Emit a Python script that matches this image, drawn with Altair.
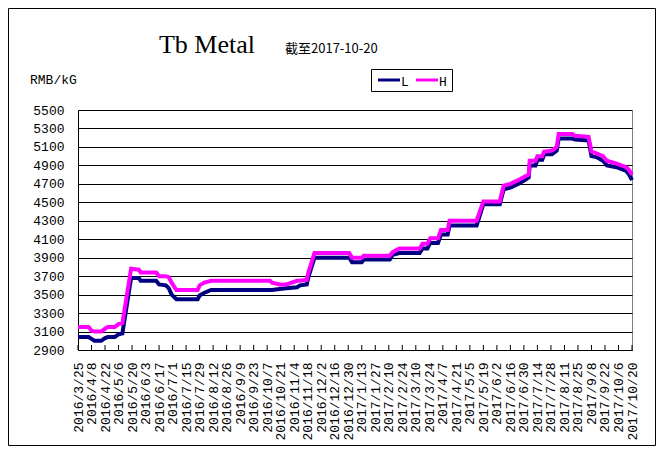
import altair as alt
import pandas as pd

# ---------------- data ----------------
dates = [
    "2016-03-25", "2016-04-05", "2016-04-08", "2016-04-11", "2016-04-18", "2016-04-22",
    "2016-04-25", "2016-05-02", "2016-05-06", "2016-05-10", "2016-05-19", "2016-05-27",
    "2016-05-29", "2016-06-14", "2016-06-17", "2016-06-24", "2016-06-27", "2016-06-30",
    "2016-07-05", "2016-07-27", "2016-07-29", "2016-08-03", "2016-08-10", "2016-10-10",
    "2016-10-12", "2016-10-20", "2016-10-27", "2016-11-07", "2016-11-10", "2016-11-17",
    "2016-11-19", "2016-11-25", "2016-12-31", "2017-01-03", "2017-01-13", "2017-01-15",
    "2017-02-11", "2017-02-14", "2017-02-21", "2017-03-14", "2017-03-17", "2017-03-22",
    "2017-03-25", "2017-04-02", "2017-04-05", "2017-04-12", "2017-04-14", "2017-05-12",
    "2017-05-19", "2017-06-05", "2017-06-09", "2017-06-16", "2017-06-24", "2017-07-01",
    "2017-07-05", "2017-07-06", "2017-07-12", "2017-07-14", "2017-07-19", "2017-07-21",
    "2017-07-29", "2017-08-03", "2017-08-05", "2017-08-19", "2017-08-22", "2017-09-05",
    "2017-09-08", "2017-09-13", "2017-09-20", "2017-09-24", "2017-10-04", "2017-10-14",
    "2017-10-17", "2017-10-20",
]
low = [
    3040, 3040, 3020, 3000, 3000, 3030,
    3040, 3040, 3070, 3080, 3680, 3680,
    3650, 3650, 3610, 3600, 3570, 3500,
    3450, 3450, 3490, 3520, 3550, 3550,
    3550, 3560, 3570, 3580, 3600, 3610,
    3700, 3900, 3900, 3850, 3850, 3880,
    3880, 3930, 3950, 3950, 4000, 4000,
    4060, 4060, 4150, 4150, 4250, 4250,
    4480, 4480, 4640, 4660, 4700, 4740,
    4770, 4900, 4900, 4960, 4960, 5020,
    5020, 5060, 5190, 5190, 5180, 5170,
    5000, 4990, 4950, 4900, 4880, 4840,
    4800, 4740,
]
high = [
    3150, 3150, 3110, 3100, 3100, 3130,
    3150, 3150, 3180, 3190, 3780, 3770,
    3740, 3740, 3700, 3700, 3690, 3630,
    3550, 3550, 3600, 3630, 3650, 3650,
    3630, 3610, 3610, 3650, 3650, 3660,
    3750, 3950, 3950, 3900, 3900, 3920,
    3920, 3960, 4000, 4000, 4050, 4050,
    4110, 4110, 4200, 4200, 4300, 4300,
    4510, 4510, 4680, 4700, 4740, 4780,
    4800, 4950, 4950, 5000, 5000, 5050,
    5060, 5100, 5240, 5240, 5220, 5210,
    5050, 5030, 5000, 4950, 4920, 4880,
    4850, 4800,
]
tick_dates = [
    "2016-03-25", "2016-04-08", "2016-04-22", "2016-05-06", "2016-05-20", "2016-06-03",
    "2016-06-17", "2016-07-01", "2016-07-15", "2016-07-29", "2016-08-12", "2016-08-26",
    "2016-09-09", "2016-09-23", "2016-10-07", "2016-10-21", "2016-11-04", "2016-11-18",
    "2016-12-02", "2016-12-16", "2016-12-30", "2017-01-13", "2017-01-27", "2017-02-10",
    "2017-02-24", "2017-03-10", "2017-03-24", "2017-04-07", "2017-04-21", "2017-05-05",
    "2017-05-19", "2017-06-02", "2017-06-16", "2017-06-30", "2017-07-14", "2017-07-28",
    "2017-08-11", "2017-08-25", "2017-09-08", "2017-09-22", "2017-10-06", "2017-10-20",
]
y_ticks = [2900, 3100, 3300, 3500, 3700, 3900, 4100, 4300, 4500, 4700, 4900, 5100, 5300, 5500]
series_names = ["L", "H"]
series_colors = ["#000080", "#FF00FF"]
title_text = ["Tb Metal"]
subtitle_text = ["截至2017-10-20"]
unit_text = ["RMB/kG"]

# ---------------- tables ----------------
long_df = pd.concat([
    pd.DataFrame({"date": dates, "value": low, "series": "L"}),
    pd.DataFrame({"date": dates, "value": high, "series": "H"}),
], ignore_index=True)
ticks_df = pd.DataFrame({"date": tick_dates})

W, H = 554, 240


def dt(s):
    y, m, d = (int(p) for p in s.split("-"))
    return alt.DateTime(year=y, month=m, date=d, utc=True)


x_scale = alt.Scale(type="utc", domain=[dt(tick_dates[0]), dt(tick_dates[-1])], nice=False)
x_enc = alt.X(
    "date:T",
    scale=x_scale,
    axis=alt.Axis(
        values=[dt(s) for s in tick_dates],
        format="%Y/%-m/%-d",
        labelAngle=270,
        labelAlign="right",
        labelBaseline="middle",
        labelFlush=False,
        labelOverlap=False,
        ticks=False,
        grid=False,
        domainColor="black",
        labelFont="Liberation Mono",
        labelFontSize=13,
        labelColor="black",
        labelPadding=12,
        title=None,
    ),
)
y_scale = alt.Scale(domain=[2900, 5500], nice=False, zero=False)
y_enc = alt.Y(
    "value:Q",
    scale=y_scale,
    axis=alt.Axis(
        values=y_ticks,
        format="d",
        grid=True,
        gridColor="black",
        gridOpacity=1,
        gridWidth=1,
        ticks=False,
        domainColor="black",
        labelFont="Liberation Mono",
        labelFontSize=13,
        labelColor="black",
        labelPadding=14,
        title=None,
    ),
)
color_enc = alt.Color(
    "series:N",
    scale=alt.Scale(domain=series_names, range=series_colors),
    legend=None,
)

base = alt.Chart(long_df)
line_l = base.transform_filter("datum.series == 'L'").mark_line(strokeWidth=4).encode(
    x=x_enc, y=y_enc, color=color_enc
)
line_h = base.transform_filter("datum.series == 'H'").mark_line(strokeWidth=4).encode(
    x=x_enc, y=y_enc, color=color_enc
)

tick_marks = alt.Chart(ticks_df).mark_rule(color="black", strokeWidth=1).encode(
    x=x_enc, y=alt.value(H), y2=alt.value(H - 5)
)

title_mark = alt.Chart(pd.DataFrame({"t": title_text})).mark_text(
    font="Liberation Serif", fontSize=26, color="black", align="center", baseline="alphabetic"
).encode(text="t:N", x=alt.value(129), y=alt.value(-57))

subtitle_mark = alt.Chart(pd.DataFrame({"t": subtitle_text})).mark_text(
    font="Noto Sans CJK SC", fontSize=13, color="black", align="left", baseline="alphabetic"
).encode(text="t:N", x=alt.value(207), y=alt.value(-57))

unit_mark = alt.Chart(pd.DataFrame({"t": unit_text})).mark_text(
    font="Liberation Mono", fontSize=13, color="black", align="left", baseline="alphabetic"
).encode(text="t:N", x=alt.value(-48), y=alt.value(-26))

border = alt.Chart(pd.DataFrame({"t": title_text})).mark_rect(
    fill=None, stroke="black", strokeWidth=1
).encode(x=alt.value(-69.5), x2=alt.value(W + 23.5), y=alt.value(-101.5), y2=alt.value(H + 95.5))

# ---- manual legend (box, swatches, labels) ----
legend_df = pd.DataFrame({"series": series_names})
legend_box = alt.Chart(pd.DataFrame({"t": title_text})).mark_rect(
    fill="white", stroke="black", strokeWidth=1
).encode(x=alt.value(293.5), x2=alt.value(374.5), y=alt.value(-40.5), y2=alt.value(-18.5))

legend_layers = []
for i, name in enumerate(series_names):
    x0 = 300 + 38 * i
    sw = alt.Chart(legend_df).transform_filter(f"datum.series == '{name}'").mark_rule(
        strokeWidth=3
    ).encode(
        x=alt.value(x0), x2=alt.value(x0 + 22), y=alt.value(-30), color=color_enc
    )
    lb = alt.Chart(legend_df).transform_filter(f"datum.series == '{name}'").mark_text(
        font="Liberation Mono", fontSize=13, color="black", align="left", baseline="alphabetic"
    ).encode(text="series:N", x=alt.value(x0 + 23), y=alt.value(-24))
    legend_layers += [sw, lb]

chart = (
    alt.layer(border, tick_marks, line_l, line_h, title_mark, subtitle_mark, unit_mark,
              legend_box, *legend_layers)
    .properties(
        width=W,
        height=H,
        autosize=alt.AutoSizeParams(type="none"),
        padding={"left": 70, "top": 102, "right": 25, "bottom": 97},
        background="white",
    )
    .configure_view(stroke="#808080", strokeWidth=1)
)

chart.save("out.html", embed_options={"renderer": "svg", "actions": False})
